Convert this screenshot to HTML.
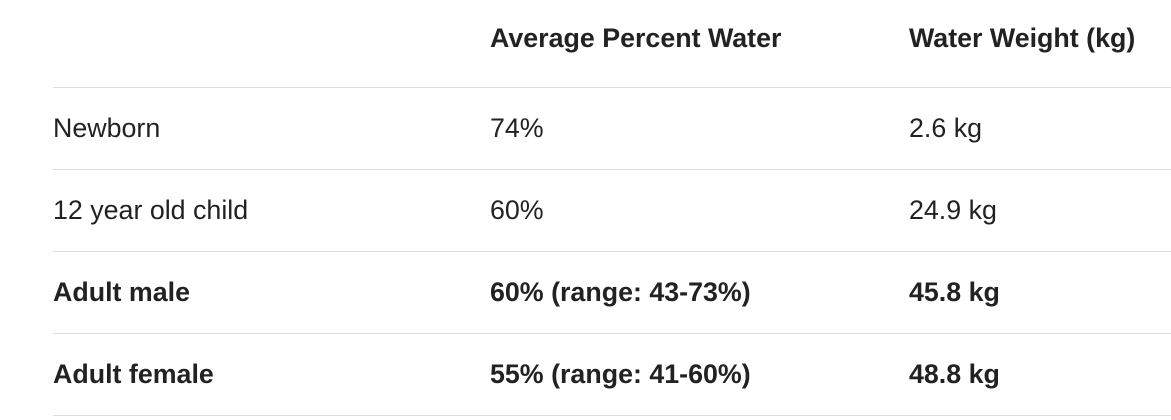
<!DOCTYPE html>
<html><head><meta charset="utf-8"><style>
html,body{margin:0;padding:0;background:#fff;width:1171px;height:420px;overflow:hidden}
body{font-family:"Liberation Sans",Arial,sans-serif;font-size:26.8px;color:#222;position:relative}
.c{position:absolute;white-space:nowrap;line-height:30px}
.b{font-weight:bold}
.l{position:absolute;left:53px;right:0;height:1px;background:#dddddd}
</style></head><body>
<div>
<div class="c b" style="left:490px;top:23px">Average Percent Water</div>
<div class="c b" style="left:909px;top:23px">Water Weight (kg)</div>
<div class="l" style="top:87px"></div>
<div class="c" style="left:53px;top:113px">Newborn</div>
<div class="c" style="left:490px;top:113px">74%</div>
<div class="c" style="left:909px;top:113px">2.6 kg</div>
<div class="l" style="top:169px"></div>
<div class="c" style="left:53px;top:195px">12 year old child</div>
<div class="c" style="left:490px;top:195px">60%</div>
<div class="c" style="left:909px;top:195px">24.9 kg</div>
<div class="l" style="top:251px"></div>
<div class="c b" style="left:53px;top:277px">Adult male</div>
<div class="c b" style="left:490px;top:277px">60% (range: 43-73%)</div>
<div class="c b" style="left:909px;top:277px">45.8 kg</div>
<div class="l" style="top:333px"></div>
<div class="c b" style="left:53px;top:359px">Adult female</div>
<div class="c b" style="left:490px;top:359px">55% (range: 41-60%)</div>
<div class="c b" style="left:909px;top:359px">48.8 kg</div>
<div class="l" style="top:415px"></div>
</div>
</body></html>
